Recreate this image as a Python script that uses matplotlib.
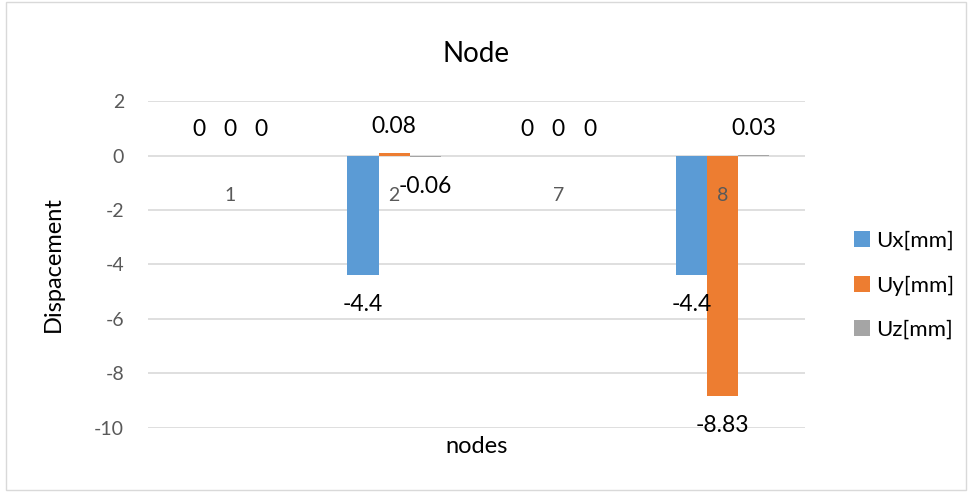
import matplotlib.pyplot as plt
import numpy as np
from matplotlib.patches import Rectangle

nodes = ['1', '2', '7', '8']
ux = [0, -4.4, 0, -4.4]
uy = [0, 0.08, 0, -8.83]
uz = [0, -0.06, 0, 0.03]
series_names = ['Ux[mm]', 'Uy[mm]', 'Uz[mm]']
colors = ['#5b9bd5', '#ed7d31', '#a5a5a5']

plt.rcParams['font.family'] = ['Lato', 'DejaVu Sans']
plt.rcParams['axes.unicode_minus'] = False

fig = plt.figure(figsize=(9.72, 4.93), dpi=100)
ax = fig.add_axes([0.152, 0.132, 0.676, 0.663])

ind = np.arange(len(nodes))
width = 0.19
for i, (vals, name, c) in enumerate(zip([ux, uy, uz], series_names, colors)):
    pos = ind + (i - 1) * width
    ax.bar(pos, vals, width, color=c, label=name, zorder=2)
    # data labels
    for x, v in zip(pos, vals):
        off = 19 if v >= 0 else -21
        ax.annotate(f'{v:g}', (x, v), xytext=(0, off), textcoords='offset points',
                    ha='center', va='center', fontsize=16.5, color='black', zorder=3)

ax.set_xlim(-0.5, 3.5)
ax.set_ylim(-10, 2)
ax.set_yticks(np.arange(-10, 3, 2))
ax.tick_params(axis='y', length=0, labelsize=14, labelcolor='#595959', pad=17)
ax.set_xticks([])
ax.grid(axis='y', color='#d9d9d9', linewidth=1.2, zorder=0)
for s in ax.spines.values():
    s.set_visible(False)

# category labels sit next to the zero line
for x, lab in zip(ind, nodes):
    ax.text(x, -1.47, lab, ha='center', va='center', fontsize=14, color='#595959')

ax.set_title('Node', fontsize=20, pad=28)
ax.set_ylabel('Dispacement', fontsize=17, labelpad=22)
ax.set_xlabel('nodes', fontsize=17, labelpad=6)

fig.legend(loc='center left', bbox_to_anchor=(0.858, 0.421), frameon=False,
           fontsize=16, handlelength=0.7, handleheight=0.7, handletextpad=0.3,
           labelspacing=1.1)

fig.patches.append(Rectangle((0.006, 0.006), 0.988, 0.99, transform=fig.transFigure,
                             fill=False, edgecolor='#d9d9d9', linewidth=1))

fig.savefig('out.png', dpi=100)
